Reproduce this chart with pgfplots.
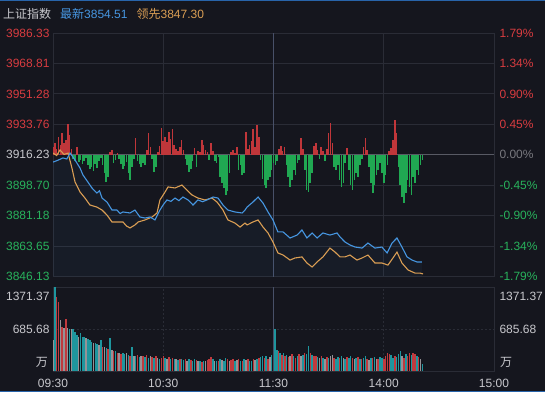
\documentclass[border=0pt]{standalone}
\usepackage{pgfplots}
\pgfplotsset{compat=1.18}
\usepackage{pgfplotstable}
\usepackage{fontspec}
\setmainfont{Liberation Sans}
\newfontfamily\cjk{Noto Sans CJK SC}

\definecolor{bg}{RGB}{21,22,30}
\definecolor{gridc}{RGB}{42,44,54}
\definecolor{basec}{RGB}{88,90,100}
\definecolor{midc}{RGB}{72,80,104}
\definecolor{upred}{RGB}{216,60,64}
\definecolor{dngreen}{RGB}{40,178,92}
\definecolor{lblue}{RGB}{70,150,225}
\definecolor{lorange}{RGB}{218,158,84}
\definecolor{vteal}{RGB}{30,150,158}
\definecolor{vred}{RGB}{192,58,62}
\definecolor{vgrey}{RGB}{150,146,150}
\definecolor{txt}{RGB}{200,200,205}
\definecolor{zeroc}{RGB}{120,120,126}
\definecolor{barred}{RGB}{192,54,58}
\definecolor{bargreen}{RGB}{32,168,82}
\definecolor{topline}{RGB}{40,100,170}

% latest price (blue), minutes after 09:30
\pgfplotstableread{
m p
0 3912.0
2.5 3913.0
5.4 3914.4
7.5 3913.8
9.3 3917.2
12.0 3913.2
14.7 3908.6
16.3 3904.6
19.0 3900.5
21.2 3897.1
23.9 3894.2
25.3 3895.5
26.7 3891.3
29.4 3889.0
32.1 3884.4
34.8 3884.4
36.5 3882.4
38.1 3883.3
41.9 3882.7
44.6 3884.4
47.3 3880.4
50.1 3879.8
52.8 3880.4
55.5 3878.7
58.2 3884.4
59.9 3887.3
62.0 3890.2
64.2 3889.4
66.4 3891.3
68.5 3889.8
70.7 3891.9
73.5 3890.2
76.2 3887.3
78.9 3890.2
81.4 3889.2
83.8 3890.2
87.1 3891.9
89.8 3891.3
92.5 3887.3
95.2 3884.4
99.0 3883.3
102.9 3882.7
104.5 3884.4
105.6 3886.1
108.8 3889.0
111.6 3891.9
114.3 3888.4
117.0 3883.3
119.7 3878.7
122.4 3871.8
125.2 3871.8
129.0 3868.3
132.8 3870.0
135.5 3872.9
138.2 3868.3
141.0 3871.2
143.7 3868.3
146.9 3871.2
150.7 3870.0
154.6 3871.2
156.2 3868.9
158.9 3866.0
161.6 3864.3
164.4 3863.1
168.2 3862.5
171.4 3865.4
175.2 3862.5
179.0 3863.1
181.8 3859.7
184.5 3865.4
187.2 3868.3
189.9 3863.1
192.7 3857.4
195.4 3855.6
198.1 3854.5
200.8 3854.5
}\bluetab

% leading index (orange)
\pgfplotstableread{
m p
0 3917.2
2.0 3915.8
3.8 3919.0
6.0 3916.4
8.2 3917.2
10.3 3908.6
12.0 3900.5
14.7 3894.8
17.4 3891.3
20.1 3887.3
23.9 3886.1
26.7 3884.4
29.4 3881.5
32.1 3877.5
34.8 3877.5
38.1 3877.5
40.0 3875.2
41.9 3874.1
44.6 3875.8
46.3 3877.5
50.1 3878.7
53.9 3880.4
56.6 3882.7
58.2 3890.2
61.0 3894.8
62.6 3897.7
66.4 3897.1
70.2 3898.8
72.9 3895.9
75.6 3893.1
78.9 3891.3
82.7 3890.2
86.5 3891.3
89.3 3889.0
92.5 3884.4
95.2 3878.7
99.0 3876.9
101.8 3874.6
104.5 3876.9
105.6 3875.8
108.8 3877.5
111.6 3878.7
114.3 3874.6
117.0 3871.2
119.7 3866.0
122.4 3859.7
125.2 3858.5
129.0 3855.6
131.7 3856.8
135.5 3857.4
138.2 3853.9
141.0 3851.6
143.7 3854.5
146.9 3857.4
150.7 3862.5
153.5 3860.2
156.2 3857.4
158.9 3857.4
161.6 3858.5
165.4 3855.6
168.2 3856.8
171.4 3858.5
175.2 3853.9
179.0 3853.9
182.3 3852.7
185.0 3856.8
187.2 3860.2
189.9 3853.9
193.2 3849.9
197.0 3848.1
199.7 3848.1
201.4 3847.6
}\orangetab

% red/green force bars: offset from 3916.23 in points
\pgfplotstableread{
m v
0 4.6
1 6.9
2 3.5
3 10.4
4 5.8
5 12.7
6 6.9
7 8.6
8 17.8
9 11.5
10 3.5
11 -2.3
12 -3.5
13 4.6
14 -4.0
15 -2.9
16 -5.2
17 -3.5
18 -1.7
19 -5.8
20 -8.1
21 -6.9
22 -9.2
23 -5.2
24 -7.5
25 -3.5
26 -1.7
27 -5.8
28 -10.4
29 -15.5
30 -12.7
31 1.7
32 2.9
33 -4.6
34 -2.9
35 1.2
36 -2.3
37 -5.2
38 -8.1
39 -6.3
40 -4.0
41 -10.4
42 -14.4
43 -6.9
44 -2.3
45 9.8
46 -3.5
47 -5.2
48 -6.9
49 -4.6
50 -5.8
51 2.9
52 12.7
53 4.6
54 -2.3
55 -9.8
56 -6.9
57 1.7
58 5.2
59 15.5
60 8.1
61 10.4
62 7.5
63 13.2
64 9.2
65 15.0
66 5.8
67 3.5
68 2.3
69 4.6
70 8.6
71 2.9
72 -2.3
73 -5.8
74 -9.8
75 -8.1
76 -3.5
77 4.0
78 -6.9
79 2.3
80 1.7
81 8.6
82 5.8
83 2.9
84 1.7
85 -2.9
86 6.9
87 2.3
88 -3.5
89 -4.6
90 -1.2
91 -12.7
92 -16.1
93 -19.0
94 -23.0
95 -20.7
96 -10.4
97 1.7
98 2.9
99 1.2
100 4.6
101 -8.6
102 -5.8
103 -11.5
104 -10.4
105 13.2
106 3.5
107 5.8
108 8.1
109 15.0
110 4.6
111 17.3
112 10.4
113 -2.9
114 -13.8
115 -17.3
116 -19.0
117 -14.4
118 -12.7
119 -8.6
120 -4.6
121 -5.8
122 -3.5
123 3.5
124 5.2
125 2.3
126 4.6
127 -5.8
128 -12.7
129 -18.4
130 -14.4
131 -8.6
132 -11.5
133 -4.6
134 -2.9
135 9.8
136 3.5
137 -8.6
138 -20.2
139 -21.3
140 -16.1
141 -10.4
142 5.2
143 6.9
144 2.9
145 -2.3
146 4.6
147 2.3
148 -3.5
149 3.5
150 12.7
151 18.4
152 6.9
153 -6.9
154 -8.6
155 -5.8
156 -14.4
157 -18.4
158 -16.1
159 -4.6
160 4.0
161 -8.6
162 -17.3
163 -20.2
164 -14.4
165 -10.4
166 -12.7
167 -5.8
168 -2.3
169 4.6
170 9.8
171 2.9
172 -6.9
173 -16.1
174 -21.9
175 -17.3
176 -11.5
177 -8.6
178 -4.6
179 -10.4
180 -16.1
181 -11.5
182 -5.8
183 2.3
184 4.0
185 8.6
186 20.2
187 12.7
188 -6.9
189 -17.3
190 -24.2
191 -27.6
192 -21.9
193 -14.4
194 -18.4
195 -23.0
196 -12.7
197 -16.1
198 -8.6
199 -11.5
200 -5.8
201 -2.9
}\bartab

% volume (10k), c: 0 teal, 1 red, 2 grey
\pgfplotstableread{
m v c
0.1 500 2
1 1371 0
2 1210 1
3 1130 1
4 830 2
5 720 1
6 700 2
7 850 1
8 700 2
9 690 0
10 690 2
11 690 0
12 640 0
13 590 0
14 560 2
15 620 0
16 550 0
17 560 0
18 540 2
19 530 0
20 500 0
21 470 0
22 450 2
23 460 0
24 440 0
25 420 2
26 510 0
27 390 1
28 400 2
29 380 0
30 360 1
31 540 0
32 340 2
33 330 1
34 320 0
35 300 1
36 290 2
37 280 1
38 300 0
39 270 0
40 290 2
41 260 0
42 250 1
43 390 0
44 250 2
45 240 0
46 260 1
47 230 0
48 250 2
49 240 1
50 230 0
51 260 1
52 220 0
53 240 2
54 230 1
55 220 0
56 240 1
57 210 2
58 200 0
59 220 1
60 240 1
61 210 0
62 200 2
63 230 1
64 190 0
65 210 1
66 200 0
67 190 2
68 180 0
69 200 1
70 190 0
71 180 0
72 200 1
73 170 2
74 190 0
75 180 1
76 170 0
77 200 0
78 180 1
79 160 2
80 170 0
81 150 1
82 170 0
83 160 2
84 180 1
85 200 1
86 230 1
87 190 0
88 170 2
89 160 0
90 170 1
91 190 0
92 180 2
93 170 0
94 210 0
95 190 1
96 160 2
97 180 1
98 200 1
99 170 0
100 180 2
101 200 1
102 170 0
103 160 1
104 190 0
105 180 2
106 200 1
107 170 0
108 160 0
109 190 1
110 180 2
111 200 0
112 210 1
113 230 0
114 250 0
115 220 1
116 240 0
117 200 1
118 230 2
119 260 0
120.9 680 0
121.8 350 0
122.7 320 1
123.6 290 0
124.5 260 1
125.4 300 0
126.3 240 1
127.2 260 0
128.1 230 1
129 250 2
130 280 1
131 240 0
132 220 1
133 250 0
134 270 1
135 240 2
136 260 0
137 300 1
138 280 0
139 410 0
140 300 1
141 260 0
142 240 1
143 250 1
144 230 0
145 210 2
146 240 1
147 220 0
148 200 2
149 230 1
150 210 0
151 240 2
152 260 2
153 220 1
154 200 0
155 230 0
156 210 1
157 250 0
158 220 2
159 200 0
160 230 1
161 210 0
162 240 0
163 220 1
164 200 2
165 210 0
166 230 1
167 200 0
168 190 1
169 220 0
170 240 0
171 200 1
172 180 2
173 210 0
174 220 1
175 230 0
176 200 2
177 190 1
178 230 0
179 210 0
180 200 1
181 240 1
182 300 1
183 280 1
184 260 0
185 220 0
186 250 1
187 230 0
188 270 0
189 330 0
190 250 2
191 220 1
192 280 0
193 240 1
194 300 1
195 260 0
196 290 1
197 270 1
198 250 0
199 230 1
200 200 2
201 120 0
}\voltab

\pgfplotsset{
  upper/.style={at={(53pt,115.5pt)}, anchor=south west, scale only axis,
    width=441pt, height=243.5pt, xmin=0, xmax=240},
  lower/.style={at={(53pt,21pt)}, anchor=south west, scale only axis,
    width=441pt, height=84pt, xmin=0, xmax=240},
}

\begin{document}
\begin{tikzpicture}[x=1pt,y=1pt]
\fill[bg] (0,0) rectangle (545,392);
\draw[topline, line width=1pt] (0,391.5) -- (545,391.5);
\draw[topline, line width=1pt] (0,0.5) -- (545,0.5);
\node[anchor=west, inner sep=0pt, font=\fontsize{12}{14}\selectfont] at (3,378.5)
 {\textcolor{txt}{\cjk 上证指数}\hspace{9pt}\textcolor{lblue}{{\cjk 最新}3854.51}\hspace{9pt}\textcolor{lorange}{{\cjk 领先}3847.30}};

% upper panel: grid and left labels
\begin{axis}[upper, ymin=3846.13, ymax=3986.33,
  axis line style={draw=gridc},
  tick style={draw=none},
  xtick={60,180}, xticklabels={},
  ytick={3846.13,3863.65,3881.18,3898.70,3916.23,3933.76,3951.28,3968.81,3986.33},
  yticklabels={{\color{dngreen}3846.13},{\color{dngreen}3863.65},{\color{dngreen}3881.18},{\color{dngreen}3898.70},{\color{txt}3916.23},{\color{upred}3933.76},{\color{upred}3951.28},{\color{upred}3968.81},{\color{upred}3986.33}},
  yticklabel style={font=\fontsize{12}{14}\selectfont},
  xmajorgrids, ymajorgrids,
  major grid style={draw=gridc, line width=0.8pt},
]
\draw[midc, line width=1.4pt] (axis cs:120,3846.13) -- (axis cs:120,3986.33);
\end{axis}

% upper panel: force bars and right labels
\begin{axis}[upper, ymin=-70.10, ymax=70.10,
  axis x line=none, axis y line*=right, axis line style={draw=none},
  tick style={draw=none},
  ytick={-70.10,-52.58,-35.05,-17.53,0,17.53,35.05,52.58,70.10},
  yticklabels={{\color{dngreen}-1.79\%},{\color{dngreen}-1.34\%},{\color{dngreen}-0.90\%},{\color{dngreen}-0.45\%},{\color{zeroc}0.00\%},{\color{upred}0.45\%},{\color{upred}0.90\%},{\color{upred}1.34\%},{\color{upred}1.79\%}},
  yticklabel style={font=\fontsize{12}{14}\selectfont, xshift=2pt},
]
\draw[basec, line width=1.1pt] (axis cs:0,0) -- (axis cs:240,0);
\addplot[ycomb, barred, line width=1.6pt, restrict y to domain=0.01:100] table[x=m, y=v] {\bartab};
\addplot[ycomb, bargreen, line width=1.6pt, restrict y to domain=-100:-0.01] table[x=m, y=v] {\bartab};
\end{axis}

% upper panel: price lines
\begin{axis}[upper, ymin=3846.13, ymax=3986.33, hide axis]
\addplot[draw=none, fill=lblue, fill opacity=0.05] table[x=m, y=p] {\bluetab} \closedcycle;
\addplot[lorange, line width=1.1pt] table[x=m, y=p] {\orangetab};
\addplot[lblue, line width=1.1pt] table[x=m, y=p] {\bluetab};
\end{axis}

% volume panel
\begin{axis}[lower, ymin=0, ymax=1371.37,
  axis line style={draw=gridc},
  tick style={draw=none},
  xtick={0,60,120,180,240}, xticklabels={09:30,10:30,11:30,14:00,15:00},
  xticklabel style={font=\fontsize{12}{14}\selectfont, text=txt, anchor=center, yshift=-12pt},
  ytick={685.68}, yticklabels={685.68},
  extra y ticks={1371.37}, extra y tick labels={1371.37},
  extra y tick style={yticklabel style={yshift=-9pt}},
  yticklabel style={font=\fontsize{12}{14}\selectfont, text=txt},
  xmajorgrids, ymajorgrids,
  major grid style={draw=gridc, line width=0.8pt, dash pattern=on 2pt off 2pt},
  unbounded coords=discard,
]
\draw[midc, line width=1.4pt] (axis cs:120,0) -- (axis cs:120,1371.37);
\addplot[ycomb, vteal, line width=1.5pt] table[x=m, y expr={\thisrow{c}==0 ? \thisrow{v} : nan}] {\voltab};
\addplot[ycomb, vred, line width=1.5pt] table[x=m, y expr={\thisrow{c}==1 ? \thisrow{v} : nan}] {\voltab};
\addplot[ycomb, vgrey, line width=1.5pt] table[x=m, y expr={\thisrow{c}==2 ? \thisrow{v} : nan}] {\voltab};
\end{axis}

% volume panel right labels
\begin{axis}[lower, ymin=0, ymax=1371.37,
  axis x line=none, axis y line*=right, axis line style={draw=none},
  tick style={draw=none},
  ytick={685.68}, yticklabels={685.68},
  extra y ticks={1371.37}, extra y tick labels={1371.37},
  extra y tick style={yticklabel style={yshift=-9pt}},
  yticklabel style={font=\fontsize{12}{14}\selectfont, text=txt, xshift=2pt},
]
\end{axis}

\node[anchor=east, inner sep=0pt, text=txt, font=\fontsize{12}{14}\selectfont\cjk] at (48,30) {万};
\node[anchor=west, inner sep=0pt, text=txt, font=\fontsize{12}{14}\selectfont\cjk] at (500,30) {万};

\pgfresetboundingbox
\useasboundingbox (0,0) rectangle (545,392);
\end{tikzpicture}
\end{document}
